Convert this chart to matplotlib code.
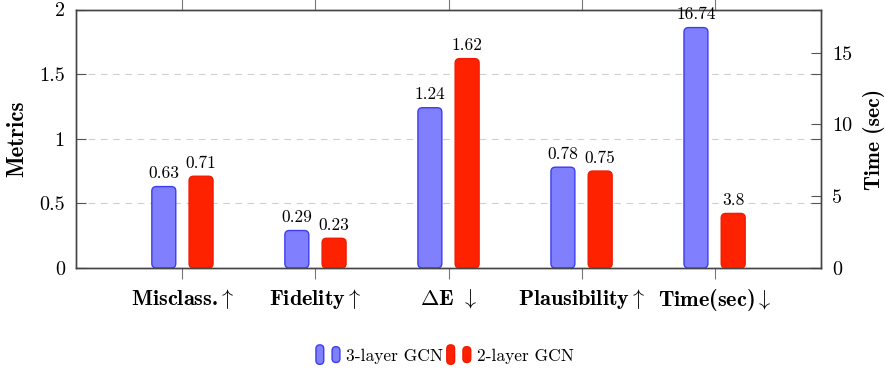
import matplotlib
matplotlib.use("Agg")
import matplotlib.pyplot as plt
from matplotlib.patches import FancyBboxPatch, Rectangle
from matplotlib.legend_handler import HandlerBase

plt.rcParams['font.family'] = ['cmr10', 'DejaVu Serif']
plt.rcParams['mathtext.fontset'] = 'cm'
plt.rcParams['axes.formatter.use_mathtext'] = True

categories = ["Misclass.$\\uparrow$", "Fidelity$\\uparrow$", "$\\mathbf{\\Delta}$E $\\downarrow$",
              "Plausibility$\\uparrow$", "Time(sec)$\\downarrow$"]
gcn3 = [0.63, 0.29, 1.24, 0.78, 16.74]
gcn2 = [0.71, 0.23, 1.62, 0.75, 3.8]
series_names = ["3-layer GCN", "2-layer GCN"]
left_ticks = [0, 0.5, 1, 1.5, 2]
left_tick_labels = ["0", "0.5", "1", "1.5", "2"]
right_ticks = [0, 5, 10, 15]
right_tick_labels = ["0", "5", "10", "15"]

blue_fc, blue_ec = "#8080ff", "#3c3cf0"
red_fc, red_ec = "#ff2200", "#f01a00"

fig = plt.figure(figsize=(8.86, 3.70), dpi=100)
ax = fig.add_axes([76/886, 1-268/370, (821-76)/886, (268-9.5)/370])
ax2 = ax.twinx()

ax.set_xlim(-0.8, 4.8)
ax.set_ylim(0, 2)
ax2.set_ylim(0, 18)

n_left = 4
xs = list(range(len(categories)))
off = 0.14
bw = 0.18

b1 = ax.bar([x - off for x in xs[:n_left]], gcn3[:n_left], bw)
b2 = ax.bar([x + off for x in xs[:n_left]], gcn2[:n_left], bw)
b3 = ax2.bar([xs[-1] - off], gcn3[n_left:], bw)
b4 = ax2.bar([xs[-1] + off], gcn2[n_left:], bw)


def round_bars(a, bars, fc, ec, labels, rpx=4.5):
    t = a.transData
    p0 = t.transform((0, 0))
    px_x = t.transform((1, 0))[0] - p0[0]
    px_y = t.transform((0, 1))[1] - p0[1]
    rx = rpx / px_x
    ry = rpx / px_y
    for r, lab in zip(bars, labels):
        x, y = r.get_xy()
        w, h = r.get_width(), r.get_height()
        r.remove()
        p = FancyBboxPatch((x, y), w, h, boxstyle=f"round,pad=0,rounding_size={rx}",
                           mutation_aspect=ry / rx, fc=fc, ec=ec, lw=1.0, zorder=3)
        a.add_patch(p)
        a.annotate(lab, (x + w / 2, y + h), xytext=(0, 4), textcoords="offset points",
                   ha="center", va="bottom", fontsize=12.5, zorder=4)


round_bars(ax, b1, blue_fc, blue_ec, [f"{v:g}" for v in gcn3[:n_left]])
round_bars(ax, b2, red_fc, red_ec, [f"{v:g}" for v in gcn2[:n_left]])
round_bars(ax2, b3, blue_fc, blue_ec, [f"{v:g}" for v in gcn3[n_left:]])
round_bars(ax2, b4, red_fc, red_ec, [f"{v:g}" for v in gcn2[n_left:]])

ax.set_yticks(left_ticks)
ax.set_yticklabels(left_tick_labels, fontsize=14.5)
ax.yaxis.set_ticks_position('both')
ax.tick_params(axis='y', direction='in', length=7, width=0.8, color="#555555", labelright=False, pad=8)
ax.yaxis.grid(True, linestyle=(0, (6, 5)), color="#d0d0d0", lw=0.8)
ax.set_axisbelow(True)

ax2.set_yticks(right_ticks)
ax2.set_yticklabels(right_tick_labels, fontsize=14.5)
ax2.tick_params(axis='y', direction='in', length=7, width=0.8, color="#555555", pad=8)

ax.set_xticks(xs)
ax.set_xticklabels(categories, fontsize=16, fontfamily=['cmb10', 'DejaVu Serif'])
ax.tick_params(axis='x', direction='out', length=8, width=0.8, color="#777777", top=True, pad=6)
ax2.tick_params(axis='x', top=False, bottom=False)

for a in (ax, ax2):
    for s in a.spines.values():
        s.set_color("#444444")
        s.set_linewidth(1.0)

fig.text(17/886, 1 - 139/370, "Metrics", rotation=90, ha="center", va="center",
         fontsize=16.5, fontfamily=['cmb10', 'DejaVu Serif'])
fig.text(874/886, 1 - 139/370, "Time (sec)", rotation=90, ha="center", va="center",
         fontsize=15.5, fontfamily=['cmb10', 'DejaVu Serif'])


class BarPairHandler(HandlerBase):
    def create_artists(self, legend, orig_handle, xdescent, ydescent, width, height, fontsize, trans):
        fc = orig_handle.get_facecolor()
        ec = orig_handle.get_edgecolor()
        w = width * 0.3
        arts = []
        for x0, hy, y0 in [(0.0, 1.6, -0.3), (0.62, 1.3, -0.15)]:
            p = FancyBboxPatch((-xdescent + x0 * width, -ydescent + y0 * height), w, height * hy,
                               boxstyle=f"round,pad=0,rounding_size={w / 2}",
                               fc=fc, ec=ec, lw=1.0, transform=trans)
            arts.append(p)
        return arts


h1 = Rectangle((0, 0), 1, 1, fc=blue_fc, ec=blue_ec)
h2 = Rectangle((0, 0), 1, 1, fc=red_fc, ec=red_ec)
fig.legend([h1, h2], series_names, loc="center", bbox_to_anchor=(445/886, 1 - 356/370),
           ncol=2, frameon=False, fontsize=12.5, handlelength=1.5, handletextpad=0.25,
           columnspacing=0.2, handler_map={Rectangle: BarPairHandler()})

fig.savefig("out.png", dpi=100)
